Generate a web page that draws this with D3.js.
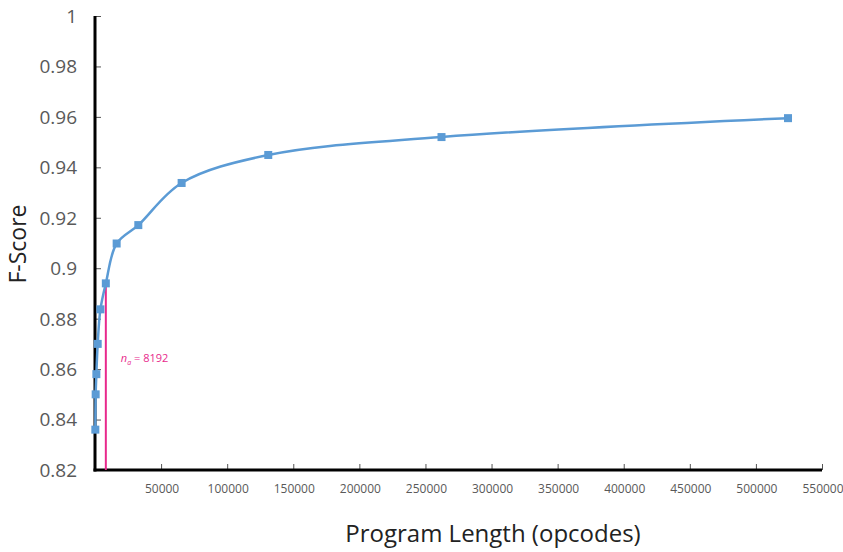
<!DOCTYPE html>
<html>
<head>
<meta charset="utf-8">
<script src="https://cdn.jsdelivr.net/npm/d3@7/dist/d3.min.js"></script>
<style>
  html, body { margin: 0; padding: 0; background: #fff; }
  svg { display: block; }
</style>
</head>
<body>
<svg id="chart" width="843" height="552"></svg>
<script>
// Program length (opcodes) versus F-score
const programLength = [256, 512, 1024, 2048, 4096, 8192, 16384, 32768, 65536, 131072, 262144, 524288];
const fScore = [0.836, 0.850, 0.858, 0.870, 0.8837, 0.894, 0.9098, 0.9171, 0.9338, 0.9449, 0.952, 0.9595];

const xTicks = [50000, 100000, 150000, 200000, 250000, 300000, 350000, 400000, 450000, 500000, 550000];
const yTicks = [0.82, 0.84, 0.86, 0.88, 0.9, 0.92, 0.94, 0.96, 0.98, 1];

const markerLength = 8192;
const xTitle = "Program Length (opcodes)";
const yTitle = "F-Score";

const svg = d3.select("#chart");
const plot = { left: 95, right: 822, top: 16, bottom: 470 };

const x = d3.scaleLinear().domain([0, 550000]).range([plot.left, plot.right]);
const y = d3.scaleLinear().domain([0.82, 1]).range([plot.bottom, plot.top]);

const pts = programLength.map((d, i) => ({ x: d, y: fScore[i] }));

// y axis: labels on the left, short ticks pointing into the plot
const yAxis = svg.append("g").attr("transform", `translate(${plot.left},0)`)
  .call(d3.axisRight(y).tickValues(yTicks).tickSize(6).tickFormat(""));
yAxis.select(".domain").remove();
yAxis.selectAll(".tick line").attr("stroke", "#555").attr("stroke-width", 1);

svg.append("g").selectAll("text").data(yTicks).join("text")
  .attr("x", 77).attr("y", d => y(d))
  .attr("dy", "0.36em")
  .attr("text-anchor", "end")
  .attr("font-family", "Open Sans, sans-serif")
  .attr("font-size", 19)
  .attr("fill", "#595959")
  .text(d => d3.format("")(d));

// x axis: ticks point upward, labels below
const xAxis = svg.append("g").attr("transform", `translate(0,${plot.bottom})`)
  .call(d3.axisTop(x).tickValues(xTicks).tickSize(6).tickFormat(""));
xAxis.select(".domain").remove();
xAxis.selectAll(".tick line").attr("stroke", "#555").attr("stroke-width", 1);

svg.append("g").selectAll("text").data(xTicks).join("text")
  .attr("x", d => x(d) + 1).attr("y", plot.bottom + 23)
  .attr("text-anchor", "middle")
  .attr("font-family", "Open Sans, sans-serif")
  .attr("font-size", 12)
  .attr("fill", "#595959")
  .text(d => d);

// axis lines
svg.append("line").attr("x1", plot.left).attr("x2", plot.left).attr("y1", plot.top).attr("y2", plot.bottom + 1.5)
  .attr("stroke", "#000").attr("stroke-width", 3);
svg.append("line").attr("x1", plot.left - 1.5).attr("x2", plot.right).attr("y1", plot.bottom).attr("y2", plot.bottom)
  .attr("stroke", "#000").attr("stroke-width", 3);

// vertical marker at n_a = 8192
const mIdx = programLength.indexOf(markerLength);
svg.append("line")
  .attr("x1", x(markerLength)).attr("x2", x(markerLength))
  .attr("y1", y(0.82)).attr("y2", y(fScore[mIdx]))
  .attr("stroke", "#e8298c").attr("stroke-width", 2);

const lbl = svg.append("text")
  .attr("x", x(markerLength) + 15).attr("y", 362)
  .attr("font-family", "Open Sans, sans-serif")
  .attr("font-size", 11)
  .attr("fill", "#e8298c");
lbl.append("tspan").attr("font-style", "italic").text("n");
lbl.append("tspan").attr("font-size", 7).attr("font-style", "italic").attr("dy", 3).text("a");
lbl.append("tspan").attr("dy", -3).text(" = " + markerLength);

// smoothed curve
const line = d3.line().x(d => x(d.x)).y(d => y(d.y)).curve(d3.curveCatmullRom.alpha(0.5));
svg.append("path").datum(pts)
  .attr("d", line)
  .attr("fill", "none")
  .attr("stroke", "#5b9bd5")
  .attr("stroke-width", 2.5);

// square markers
svg.append("g").selectAll("rect").data(pts).join("rect")
  .attr("x", d => x(d.x) - 4).attr("y", d => y(d.y) - 4)
  .attr("width", 8).attr("height", 8)
  .attr("fill", "#5b9bd5");

// titles
svg.append("text")
  .attr("x", 493).attr("y", 542)
  .attr("text-anchor", "middle")
  .attr("font-family", "Open Sans, sans-serif")
  .attr("font-size", 24)
  .attr("fill", "#222")
  .text(xTitle);

svg.append("text")
  .attr("transform", `translate(26,244) rotate(-90)`)
  .attr("text-anchor", "middle")
  .attr("font-family", "Open Sans, sans-serif")
  .attr("font-size", 23)
  .attr("fill", "#222")
  .text(yTitle);
</script>
</body>
</html>
